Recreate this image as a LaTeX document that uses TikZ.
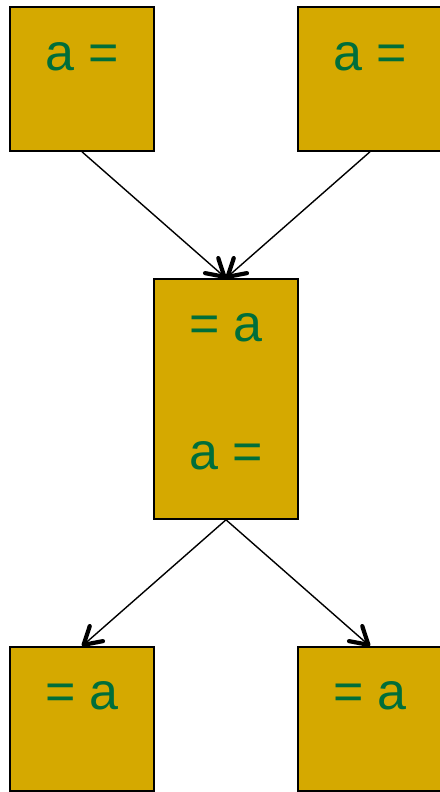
\documentclass[tikz,border=0pt]{standalone}
\usepackage{fontspec}
\setmainfont{Liberation Sans}
\usetikzlibrary{arrows.meta,positioning}
\definecolor{boxgold}{RGB}{213,169,0}
\definecolor{txtgreen}{RGB}{0,110,58}

\begin{document}
\begin{tikzpicture}[x=1pt, y=-1pt,
  box/.style={draw=black, line width=1.6pt, fill=boxgold, minimum width=144pt, minimum height=144pt, inner sep=0pt},
  lbl/.style={text=txtgreen, font=\fontsize{52}{60}\selectfont, inner sep=0pt, anchor=base},
  flow/.style={line width=1.4pt, -{Straight Barb[length=17pt, width=20pt, line width=4.2pt, round]}}]

  \useasboundingbox (0,0) rectangle (439,792);

  % top row
  \node[box] (left) at (82,79) {};
  \node[box] (right) at (370,79) {};
  \node[lbl] (lefttxt) at ([yshift=-64pt]left.north) {a =};
  \node[lbl] (righttxt) at ([yshift=-64pt]right.north) {a =};

  % middle
  \node[box, minimum height=240pt] (mid) at (226,399) {};
  \node[lbl] (midtop) at ([yshift=-63pt]mid.north) {= a};
  \node[lbl] (midbot) at ([yshift=-191pt]mid.north) {a =};

  % bottom row
  \node[box] (botleft) at (82,719) {};
  \node[box] (botright) at (370,719) {};
  \node[lbl] (botlefttxt) at ([yshift=-63pt]botleft.north) {= a};
  \node[lbl] (botrighttxt) at ([yshift=-63pt]botright.north) {= a};

  % arrows
  \draw[flow] (left.south) -- (mid.north);
  \draw[flow] (right.south) -- (mid.north);
  \draw[flow] (mid.south) -- (botleft.north);
  \draw[flow] (mid.south) -- (botright.north);
\end{tikzpicture}
\end{document}
